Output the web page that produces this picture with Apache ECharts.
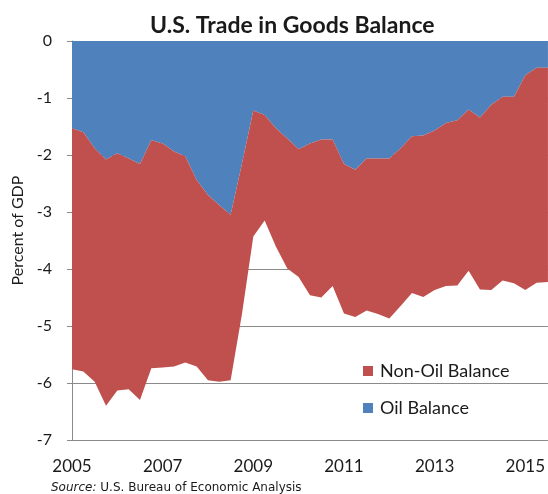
<!DOCTYPE html>
<html>
<head>
<meta charset="utf-8">
<script src="https://cdn.jsdelivr.net/npm/echarts@6/dist/echarts.min.js"></script>
<style>
  html, body { margin: 0; padding: 0; background: #fff; }
  #chart { width: 548px; height: 494px; }
</style>
</head>
<body>
<div id="chart"></div>
<script>
// quarterly, 2005 Q1 .. 2015 Q3
var quarters = [
  '2005Q1','2005Q2','2005Q3','2005Q4','2006Q1','2006Q2','2006Q3','2006Q4',
  '2007Q1','2007Q2','2007Q3','2007Q4','2008Q1','2008Q2','2008Q3','2008Q4',
  '2009Q1','2009Q2','2009Q3','2009Q4','2010Q1','2010Q2','2010Q3','2010Q4',
  '2011Q1','2011Q2','2011Q3','2011Q4','2012Q1','2012Q2','2012Q3','2012Q4',
  '2013Q1','2013Q2','2013Q3','2013Q4','2014Q1','2014Q2','2014Q3','2014Q4',
  '2015Q1','2015Q2','2015Q3'
];
var oilBalance = [
  -1.53,-1.60,-1.88,-2.08,-1.97,-2.06,-2.16,-1.74,
  -1.80,-1.94,-2.02,-2.44,-2.70,-2.88,-3.05,-2.15,
  -1.22,-1.30,-1.53,-1.71,-1.90,-1.80,-1.73,-1.73,
  -2.16,-2.26,-2.06,-2.06,-2.06,-1.88,-1.67,-1.66,
  -1.57,-1.44,-1.39,-1.20,-1.34,-1.12,-0.98,-0.98,
  -0.60,-0.47,-0.47
];
var nonOilBalance = [
  -4.23,-4.20,-4.10,-4.32,-4.16,-4.05,-4.14,-4.00,
  -3.93,-3.77,-3.62,-3.27,-3.25,-3.10,-2.90,-2.64,
  -2.21,-1.85,-2.08,-2.28,-2.24,-2.66,-2.77,-2.57,
  -2.62,-2.58,-2.67,-2.73,-2.81,-2.77,-2.75,-2.83,
  -2.80,-2.86,-2.90,-2.83,-3.02,-3.25,-3.22,-3.27,
  -3.77,-3.77,-3.76
];
var yMin = -7, yMax = 0, yStep = 1;

var FONT = 'Lato';
var GRID_GRAY = '#8a8a8a';

var chart = echarts.init(document.getElementById('chart'));
var option = {
  animation: false,
  textStyle: { fontFamily: FONT },
  title: {
    text: 'U.S. Trade in Goods Balance',
    left: 145, top: 9,
    textStyle: { fontFamily: FONT, fontSize: 23, fontWeight: 'bold', color: '#1a1a1a' }
  },
  legend: {
    orient: 'vertical',
    left: 358, top: 357,
    itemWidth: 10, itemHeight: 10, itemGap: 19,
    icon: 'rect',
    data: ['Non-Oil Balance', 'Oil Balance'],
    textStyle: { fontFamily: FONT, fontSize: 18, color: '#1a1a1a', padding: [0, 0, 0, 2] }
  },
  grid: { left: 72, right: 0, top: 41, bottom: 54 },
  xAxis: [{
    type: 'category',
    data: quarters,
    boundaryGap: false,
    position: 'bottom',
    axisLine: { show: true, lineStyle: { color: GRID_GRAY, width: 1 } },
    axisTick: { show: false },
    axisLabel: {
      interval: 7, margin: 18,
      fontSize: 17, color: '#1a1a1a', fontFamily: FONT,
      formatter: function (v) { return v.slice(0, 4); }
    }
  }, {
    type: 'category',
    data: quarters,
    boundaryGap: false,
    position: 'top',
    axisLine: { show: true, lineStyle: { color: GRID_GRAY, width: 1 } },
    axisTick: { show: true, inside: true, length: 5, interval: 7, lineStyle: { color: GRID_GRAY } },
    axisLabel: { show: false }
  }],
  yAxis: {
    type: 'value',
    min: yMin, max: yMax, interval: yStep,
    name: 'Percent of GDP',
    nameLocation: 'middle',
    nameGap: 44,
    nameTextStyle: { fontFamily: FONT, fontSize: 16, color: '#1a1a1a', padding: [0, 0, 0, 20] },
    axisLine: { show: true, lineStyle: { color: GRID_GRAY, width: 1 } },
    axisTick: { show: true, length: 5, lineStyle: { color: GRID_GRAY } },
    axisLabel: { margin: 20, fontSize: 16, color: '#1a1a1a', fontFamily: FONT },
    splitLine: { show: true, lineStyle: { color: GRID_GRAY, width: 1 } }
  },
  series: [{
    name: 'Oil Balance',
    type: 'line',
    stack: 'total',
    data: oilBalance,
    symbol: 'none',
    lineStyle: { width: 0 },
    areaStyle: { color: '#4F81BD', opacity: 1 },
    itemStyle: { color: '#4F81BD' }
  }, {
    name: 'Non-Oil Balance',
    type: 'line',
    stack: 'total',
    data: nonOilBalance,
    symbol: 'none',
    lineStyle: { width: 0 },
    areaStyle: { color: '#C0504D', opacity: 1 },
    itemStyle: { color: '#C0504D' }
  }],
  graphic: [{
    type: 'text',
    left: 51, top: 482,
    style: {
      text: '{i|Source:} U.S. Bureau of Economic Analysis',
      fontFamily: 'DejaVu Sans', fontSize: 12, fill: '#1a1a1a',
      rich: { i: { fontStyle: 'italic', fontFamily: 'DejaVu Sans', fontSize: 12 } }
    }
  }]
};
chart.setOption(option);
</script>
</body>
</html>
